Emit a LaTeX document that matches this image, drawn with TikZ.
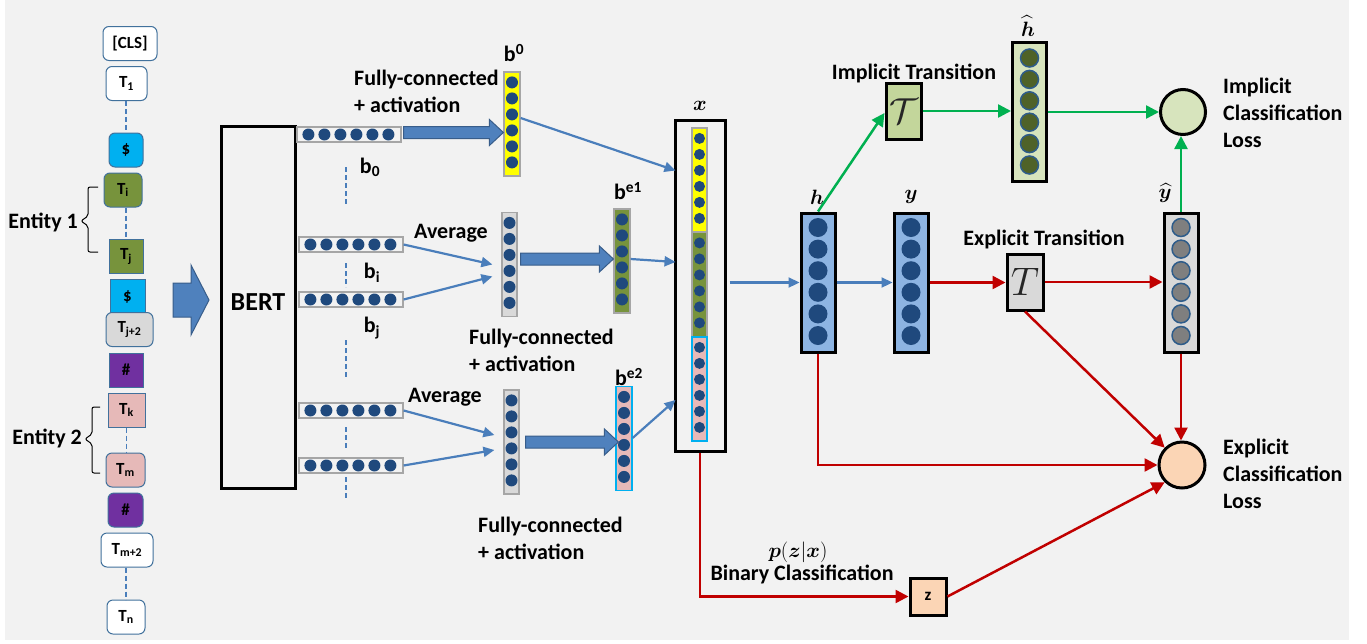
\documentclass[tikz,border=0pt]{standalone}
\usepackage{graphicx}
\usepackage{fontspec}
\setmainfont{Carlito}
\usepackage{amsmath,bm}
\usetikzlibrary{arrows.meta,calc}
\definecolor{bg}{HTML}{F2F2F2}
\definecolor{dotc}{HTML}{1F497D}
\definecolor{vborder}{HTML}{A6A6A6}
\definecolor{ablue}{HTML}{4A7EBB}
\definecolor{fatfill}{HTML}{4F81BD}
\definecolor{fatdraw}{HTML}{385D8A}
\definecolor{yel}{HTML}{FFFF00}
\definecolor{olive}{HTML}{77933C}
\definecolor{pinkc}{HTML}{E6B9B8}
\definecolor{cyanc}{HTML}{00B0F0}
\definecolor{purp}{HTML}{7030A0}
\definecolor{lgray}{HTML}{D9D9D9}
\definecolor{tokb}{HTML}{41719C}
\definecolor{hblue}{HTML}{8DB4E2}
\definecolor{agreen}{HTML}{00B050}
\definecolor{ared}{HTML}{C00000}
\definecolor{lgreen}{HTML}{C3D69B}
\definecolor{pgreen}{HTML}{D7E4BD}
\definecolor{dolive}{HTML}{4F6228}
\definecolor{peach}{HTML}{FBD5B5}
\definecolor{gdot}{HTML}{7F7F7F}
\definecolor{dborder}{HTML}{2E5C8A}
\newcommand\hdotrow[1]{\foreach \k in {0,...,5}{\fill[dotc] ($(#1.west)+(12+16*\k,0)$) circle (6pt);}}
\newcommand\vdotcol[5]{\foreach \k in {0,...,5}{\filldraw[#5] ($(#1.north)+(0,#2+#3*\k)$) circle (#4pt);}}
\newcommand\fatarr[2]{\draw[fill=fatfill,draw=fatdraw,line width=1pt] let \p1=(#1), \p2=(#2) in
  (\x1,\y1+6pt) -- (\x2-14pt,\y1+6pt) -- (\x2-14pt,\y1+13pt) -- (\x2,\y1) -- (\x2-14pt,\y1-13pt) -- (\x2-14pt,\y1-6pt) -- (\x1,\y1-6pt) -- cycle;}
\tikzset{
 tok/.style={draw=tokb, line width=1pt, minimum height=34pt, inner sep=0pt, font=\fontsize{17}{17}\selectfont\bfseries},
 rtok/.style={tok, rounded corners=6pt},
 hv/.style={draw=vborder, fill=bg, line width=1.2pt, minimum width=104pt, minimum height=15pt, inner sep=0pt},
 vv/.style={draw=vborder, line width=1.2pt, minimum width=16pt, minimum height=104pt, inner sep=0pt},
 bigv/.style={draw=black, line width=3pt, minimum width=34pt, minimum height=139pt, inner sep=0pt},
 lbl/.style={font=\fontsize{22}{27}\selectfont\bfseries, inner sep=0pt},
 mlbl/.style={font=\fontsize{22}{22}\selectfont, inner sep=0pt},
 bconn/.style={draw=ablue, line width=2.2pt, -{Triangle[length=11pt,width=10pt]}},
 gconn/.style={draw=agreen, line width=2.5pt, -{Triangle[length=13pt,width=13pt]}},
 rconn/.style={draw=ared, line width=2.5pt, -{Triangle[length=13pt,width=13pt]}},
 dsh/.style={draw=ablue, line width=1.5pt, dash pattern=on 5pt off 3pt},
 dotk/.style={fill=dotc, draw=none},
}
\begin{document}
\begin{tikzpicture}[x=1pt,y=-1pt]
\useasboundingbox (0,0) rectangle (1367,643);
\fill[bg] (5,0) rectangle (1349,640);

% tokens
\node[rtok, fill=white, minimum width=54pt] (cls) at (130,43.5) {[CLS]};
\node[rtok, fill=white, minimum width=41pt] (t1) at (126.5,83.5) {T\textsubscript{1}};
\node[rtok, fill=cyanc, minimum width=34pt] (d1) at (126,150) {\$};
\node[rtok, fill=olive, minimum width=38pt] (ti) at (123,190) {T\textsubscript{i}};
\node[tok, fill=olive, minimum width=34pt] (tj) at (126,256.5) {T\textsubscript{j}};
\node[tok, fill=cyanc, minimum width=35pt] (d2) at (127.5,296.5) {\$};
\node[rtok, fill=lgray, minimum width=47pt] (tj2) at (129.5,329.5) {T\textsubscript{j+2}};
\node[tok, fill=purp, minimum width=34pt] (s1) at (126,370) {\#};
\node[tok, fill=pinkc, minimum width=37pt] (tk) at (126.5,410) {T\textsubscript{k}};
\node[rtok, fill=pinkc, minimum width=39pt] (tm) at (125.5,470) {T\textsubscript{m}};
\node[rtok, fill=purp, minimum width=35pt] (s2) at (125.5,510) {\#};
\node[rtok, fill=white, minimum width=52pt] (tm2) at (127,550) {T\textsubscript{m+2}};
\node[rtok, fill=white, minimum width=38pt] (tn) at (126,617) {T\textsubscript{n}};
\draw[dsh] (d1.north |- t1.south) -- (d1.north);
\draw[dsh] (tj.north |- ti.south) -- (tj.north);
\draw[dsh] (tk.south) -- (tk.south |- tm.north);
\draw[dsh] (tn.north |- tm2.south) -- (tn.north);

% braces
\draw[line width=1pt, rounded corners=2pt] (98,187) -- (88,187) -- (88,216) -- (81,221) -- (88,226) -- (88,252) -- (98,252);
\draw[line width=1pt, rounded corners=2pt] (100,407) -- (92,407) -- (92,434) -- (85,439) -- (92,444) -- (92,473) -- (100,473);
\node[lbl, anchor=east] (ent1) at (78,222) {Entity 1};
\node[lbl, anchor=east] (ent2) at (82,438) {Entity 2};

% big arrow
\draw[fill=fatfill, draw=fatdraw, line width=1pt] (173,283) -- (191,283) -- (191,265) -- (209,300) -- (191,335) -- (191,317) -- (173,317) -- cycle;

% BERT
\node[draw=black, line width=3pt, minimum width=74pt, minimum height=362pt, inner sep=0pt, font=\fontsize{26}{26}\selectfont\bfseries] (bert) at (258,307) {\raisebox{10pt}{BERT}};

% horizontal vectors
\node[hv] (r1) at (349,134.5) {}; \hdotrow{r1}
\node[hv] (r2) at (351,244.5) {}; \hdotrow{r2}
\node[hv] (r3) at (351,299.5) {}; \hdotrow{r3}
\node[hv] (r4) at (351,410.5) {}; \hdotrow{r4}
\node[hv] (r5) at (351,465.5) {}; \hdotrow{r5}
\coordinate (dd1a) at (346,167); \coordinate (dd1b) at (346,205);
\coordinate (dd2a) at (346,263); \coordinate (dd2b) at (346,287);
\coordinate (dd3a) at (346,340); \coordinate (dd3b) at (346,377);
\coordinate (dd4a) at (346,427); \coordinate (dd4b) at (346,450);
\coordinate (dd5a) at (346,477); \coordinate (dd5b) at (346,500);
\draw[dsh] (dd1a) -- (dd1b); \draw[dsh] (dd2a) -- (dd2b); \draw[dsh] (dd3a) -- (dd3b);
\draw[dsh] (dd4a) -- (dd4b); \draw[dsh] (dd5a) -- (dd5b);
\node[lbl] (lb0) at (370,167) {b\textsubscript{0}};
\node[lbl] (lbi) at (372,273) {b\textsubscript{i}};
\node[lbl] (lbj) at (372,328) {b\textsubscript{j}};

% vertical small vectors
\node[vv, fill=yel] (b0) at (512,124) {}; \vdotcol{b0}{11}{16}{6}{dotk}
\node[vv, fill=lgray, minimum width=15pt] (avg1) at (509.5,264.5) {}; \vdotcol{avg1}{11}{16}{6}{dotk}
\node[vv, fill=olive] (be1) at (622,261) {}; \vdotcol{be1}{11}{16}{6}{dotk}
\node[vv, fill=lgray, minimum width=15pt] (avg2) at (511.5,442) {}; \vdotcol{avg2}{11}{16}{6}{dotk}
\node[vv, fill=pinkc, draw=cyanc] (be2) at (624,438.5) {}; \vdotcol{be2}{11}{16}{6}{dotk}
\node[lbl] (lsb0) at (514,53) {b\textsuperscript{0}};
\node[lbl] (lsbe1) at (628,191) {b\textsuperscript{e1}};
\node[lbl] (lsbe2) at (629,377) {b\textsuperscript{e2}};

\node[lbl, anchor=west, align=left] (fc0) at (354,91.5) {Fully-connected\\+ activation};
\node[lbl, anchor=west, align=left] (fc1) at (469,350) {Fully-connected\\+ activation};
\node[lbl, anchor=west, align=left] (fc2) at (478,538.5) {Fully-connected\\+ activation};
\node[lbl] (av1) at (451,233) {Average};
\node[lbl] (av2) at (445,397) {Average};

\fatarr{$(r1.east)+(2,-2)$}{b0.west}
\fatarr{$(avg1.east)+(3,-5.5)$}{be1.west}
\fatarr{$(avg2.east)+(6,0)$}{$(be2.west)+(3,0)$}

\draw[bconn] (r2.east) -- ($(avg1.west)+(-9,0)$);
\draw[bconn] (r3.east) -- ($(avg1.west)+(-9,12)$);
\draw[bconn] (r4.east) -- ($(avg2.west)+(-9,-7)$);
\draw[bconn] (r5.east) -- ($(avg2.west)+(-9,8)$);

% x column
\node[draw=black, line width=3pt, minimum width=50pt, minimum height=331pt, inner sep=0pt] (xbox) at (700,285.5) {};
\node[draw=vborder, fill=yel, line width=1.2pt, minimum width=15pt, minimum height=104pt, inner sep=0pt] (xy) at (699.5,180) {};
\node[draw=vborder, fill=olive, line width=1.2pt, minimum width=15pt, minimum height=105pt, inner sep=0pt] (xg) at (699.5,284.5) {};
\node[draw=cyanc, fill=pinkc, line width=1.2pt, minimum width=15pt, minimum height=104pt, inner sep=0pt] (xp) at (699.5,389) {};
\vdotcol{xy}{11}{16}{5.5}{dotk}
\vdotcol{xg}{11.5}{16}{5.5}{dotk}
\vdotcol{xp}{11}{16}{5.5}{dotk}
\node[mlbl] (lx) at (700,106) {$\bm{x}$};

\draw[bconn] ($(b0.east)+(0,-6)$) -- ($(xbox.west)+(2,-115)$);
\draw[bconn] ($(be1.east)+(0,-2)$) -- ($(xbox.west)+(2,-23.5)$);
\draw[bconn] ($(be2.east)+(0,-0.5)$) -- ($(xbox.west)+(2,114.5)$);

% right part
\node[bigv, fill=hblue] (h) at (818,282.5) {}; \vdotcol{h}{16}{21.6}{9.5}{dotk}
\node[bigv, fill=hblue] (y) at (911,282.5) {}; \vdotcol{y}{16}{21.6}{9.5}{dotk}
\node[bigv, fill=lgray] (yh) at (1181,282.5) {}; \vdotcol{yh}{16}{21.6}{9}{fill=gdot, draw=dborder, line width=1.5pt}
\node[bigv, fill=pgreen] (hh) at (1029.5,112) {}; \vdotcol{hh}{17}{21.4}{9}{fill=dolive, draw=dborder, line width=1.5pt}
\node[mlbl] (lh) at (817,197) {$\bm{h}$};
\node[mlbl] (ly) at (911,197) {$\bm{y}$};
\node[mlbl] (lyh) at (1165,193) {$\widehat{\bm{y}}$};
\node[mlbl] (lhh) at (1028,26) {$\widehat{\bm{h}}$};

\node[draw=black, line width=3pt, fill=lgreen, minimum width=35pt, minimum height=56pt, inner sep=0pt, font=\fontsize{24}{24}\selectfont, text=black!85] (tc) at (903.5,111) {\scalebox{1.45}{$\mathcal{T}$}};
\node[draw=black, line width=3pt, fill=lgray, minimum width=36pt, minimum height=56pt, inner sep=0pt, font=\fontsize{24}{24}\selectfont, text=black!85] (tt) at (1025,282) {\scalebox{1.6}{$T$}};
\node[lbl] (limp) at (914,73) {Implicit Transition};
\node[lbl] (lexp) at (1044,239) {Explicit Transition};

\node[circle, draw=black, line width=3pt, fill=pgreen, minimum size=45pt, inner sep=0pt] (iloss) at (1183,112) {};
\node[circle, draw=black, line width=3pt, fill=peach, minimum size=46pt, inner sep=0pt] (eloss) at (1182,465) {};
\node[lbl, anchor=west, align=left] (liloss) at (1223,113) {Implicit\\Classification\\Loss};
\node[lbl, anchor=west, align=left] (leloss) at (1223,474) {Explicit\\Classification\\Loss};

\node[draw=black, line width=3pt, fill=peach, minimum width=36pt, minimum height=37pt, inner sep=0pt, font=\fontsize{17}{17}\selectfont\bfseries] (z) at (928,596.5) {z};
\node[mlbl] (lpz) at (798,552) {$\bm{p}(\bm{z}|\bm{x})$};
\node[lbl] (lbin) at (802,574) {Binary Classification};

\draw[bconn] ($(xbox.east |- h.west)+(3,0)$) -- (h.west);
\draw[bconn] (h.east) -- (y.west);
\draw[gconn] (h.north) -- ($(tc.west)+(0,2)$);
\draw[gconn] (tc.east) -- (tc.east -| hh.west);
\draw[gconn] (hh.east) -- (hh.east -| iloss.west);
\draw[gconn] (yh.north) -- (yh.north |- iloss.south);
\draw[rconn] (y.east) -- (y.east -| tt.west);
\draw[rconn] (tt.east) -- (tt.east -| yh.west);
\draw[rconn] (h.south) |- (eloss.west);
\draw[rconn] (tt.south) -- (eloss.north west);
\draw[rconn] (yh.south) -- (yh.south |- eloss.north);
\draw[rconn] (xbox.south) |- (z.west);
\draw[rconn] (z.east) -- (eloss.south west);
\end{tikzpicture}
\end{document}
